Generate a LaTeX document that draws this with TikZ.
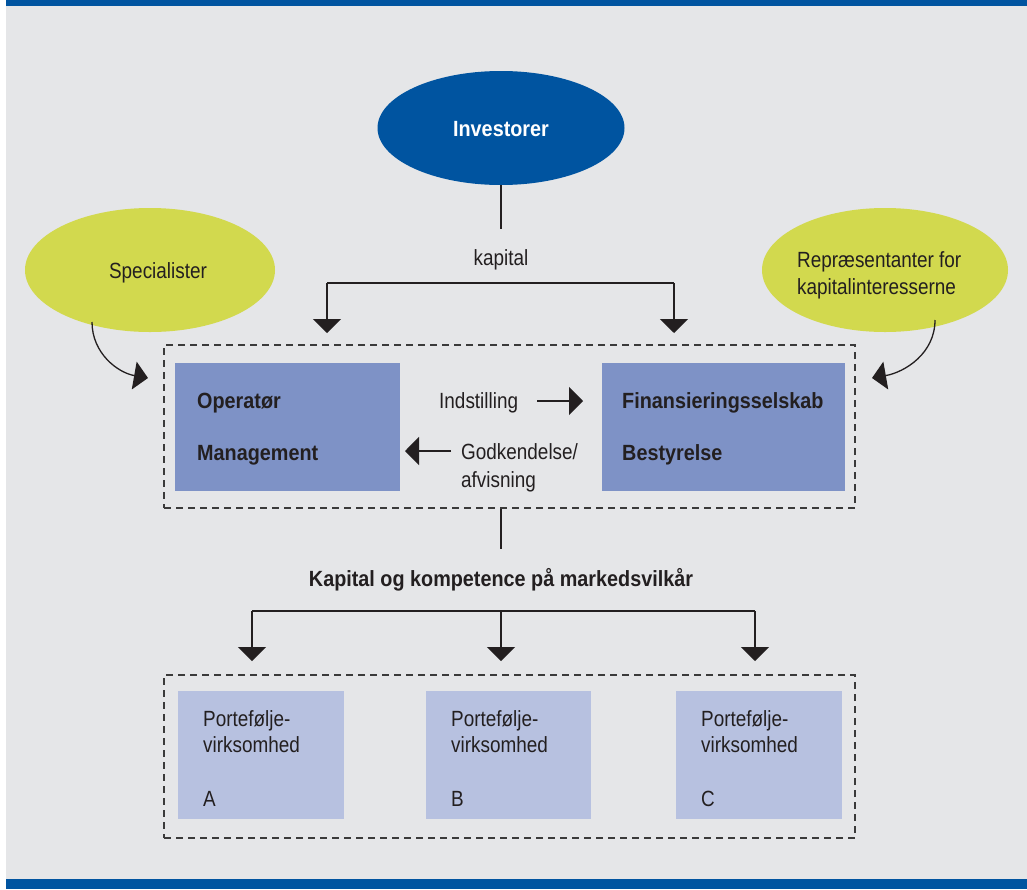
\documentclass[tikz,border=0pt]{standalone}
\usepackage{fontspec}
\setmainfont[FakeStretch=0.86, BoldFeatures={FakeStretch=0.9}]{Liberation Sans}
\usetikzlibrary{arrows.meta,shapes.geometric}
\definecolor{navy}{RGB}{0,84,160}
\definecolor{lime}{RGB}{210,217,78}
\definecolor{boxdark}{RGB}{126,146,198}
\definecolor{boxlight}{RGB}{183,193,224}
\definecolor{bg}{RGB}{229,230,232}
\definecolor{ink}{RGB}{35,31,32}
\definecolor{dashc}{RGB}{58,58,58}
\begin{document}
\begin{tikzpicture}[x=1pt,y=-1pt,
  font=\fontsize{22}{28}\selectfont,
  txt/.style={text=ink, inner sep=0pt, anchor=base west},
  ctxt/.style={text=ink, inner sep=0pt, anchor=base},
  bfnt/.style={font=\fontsize{22}{28}\selectfont\bfseries},
  conn/.style={draw=ink, line width=1.3pt},
  tri/.style={-{Triangle[width=28pt,length=14pt]}},
  dbox/.style={draw=dashc, dash pattern=on 7pt off 5pt, line width=1.2pt, inner sep=0pt},
  ell/.style={ellipse, inner sep=0pt},
  bigbox/.style={fill=boxdark, inner sep=0pt, minimum width=225pt, minimum height=128pt},
  pbox/.style={fill=boxlight, inner sep=0pt, minimum width=166pt, minimum height=128pt}]
\useasboundingbox (0,0) rectangle (1027,889);
\fill[white] (0,0) rectangle (1027,889);
\fill[bg] (6,6) rectangle (1027,879);
\fill[navy] (6,0) rectangle (1027,6);
\fill[navy] (6,879) rectangle (1027,889);

% ellipses
\node[ell, fill=navy, minimum width=247pt, minimum height=114pt] (inv) at (501,128) {};
\node[ctxt, text=white, bfnt] (invt) at (501,136) {Investorer};
\node[ell, fill=lime, minimum width=250pt, minimum height=124pt] (spec) at (150,270) {};
\node[ctxt] (spect) at (158,278) {Specialister};
\node[ell, fill=lime, minimum width=246pt, minimum height=124pt] (rep) at (885,270) {};
\node[txt] (rept1) at (797,267) {Repræsentanter for};
\node[txt] (rept2) at (797,294) {kapitalinteresserne};

% upper dashed box and inner boxes
\node[dbox, minimum width=691pt, minimum height=163pt] (upper) at (509.5,426.5) {};
\node[bigbox] (oper) at (287.5,427) {};
\node[bigbox, minimum width=243pt] (fin) at (723.5,427) {};
\node[txt, bfnt] (opt1) at (197,408) {Operatør};
\node[txt, bfnt] (opt2) at (197,460) {Management};
\node[txt, bfnt] (fint1) at (622,408) {Finansieringsselskab};
\node[txt, bfnt] (fint2) at (622,460) {Bestyrelse};
\node[txt] (ind) at (439,408) {Indstilling};
\node[txt] (god1) at (461,459) {Godkendelse/};
\node[txt] (god2) at (461,487) {afvisning};

% kapital connectors
\coordinate (k0) at (501,229);
\coordinate (k1) at (327,283);
\coordinate (k2) at (674,283);
\coordinate (ka1) at (327,333);
\coordinate (ka2) at (674,333);
\node[ctxt] (kap) at (501,265) {kapital};
\draw[conn] (inv.south) -- (k0);
\draw[conn] (k1) -- (k2);
\draw[conn, tri] (k1) -- (ka1);
\draw[conn, tri] (k2) -- (ka2);

% middle arrows
\coordinate (i1) at (537,401);
\coordinate (i2) at (583,401);
\coordinate (g1) at (451,451);
\coordinate (g2) at (405,451);
\draw[conn, tri] (i1) -- (i2);
\draw[conn, tri] (g1) -- (g2);

% curved arrows
\coordinate (s1) at (92,322);
\coordinate (s2) at (148,378);
\coordinate (r1) at (935,320);
\coordinate (r2) at (872,378);
\draw[conn, tri] (s1) to[out=-90, in=170] (s2);
\draw[conn, tri] (r1) to[out=-90, in=10] (r2);

% lower part
\coordinate (m0) at (501,549);
\node[ctxt, bfnt] (kk) at (501,586) {Kapital og kompetence på markedsvilkår};
\draw[conn] (upper.south -| inv.south) -- (m0);
\coordinate (b1) at (252,611);
\coordinate (b2) at (501,611);
\coordinate (b3) at (755,611);
\coordinate (ba1) at (252,661);
\coordinate (ba2) at (501,661);
\coordinate (ba3) at (755,661);
\draw[conn] (b1) -- (b3);
\draw[conn, tri] (b1) -- (ba1);
\draw[conn, tri] (b2) -- (ba2);
\draw[conn, tri] (b3) -- (ba3);

\node[dbox, minimum width=691pt, minimum height=163pt] (lower) at (509.5,756.5) {};
\node[pbox] (pa) at (261,755) {};
\node[pbox, minimum width=165pt] (pb) at (508.5,755) {};
\node[pbox] (pc) at (759,755) {};
\node[txt] (pa1) at (203,726) {Portefølje-};
\node[txt] (pa2) at (203,752) {virksomhed};
\node[txt] (pa3) at (203,806) {A};
\node[txt] (pb1) at (451,726) {Portefølje-};
\node[txt] (pb2) at (451,752) {virksomhed};
\node[txt] (pb3) at (451,806) {B};
\node[txt] (pc1) at (701,726) {Portefølje-};
\node[txt] (pc2) at (701,752) {virksomhed};
\node[txt] (pc3) at (701,806) {C};
\end{tikzpicture}
\end{document}
